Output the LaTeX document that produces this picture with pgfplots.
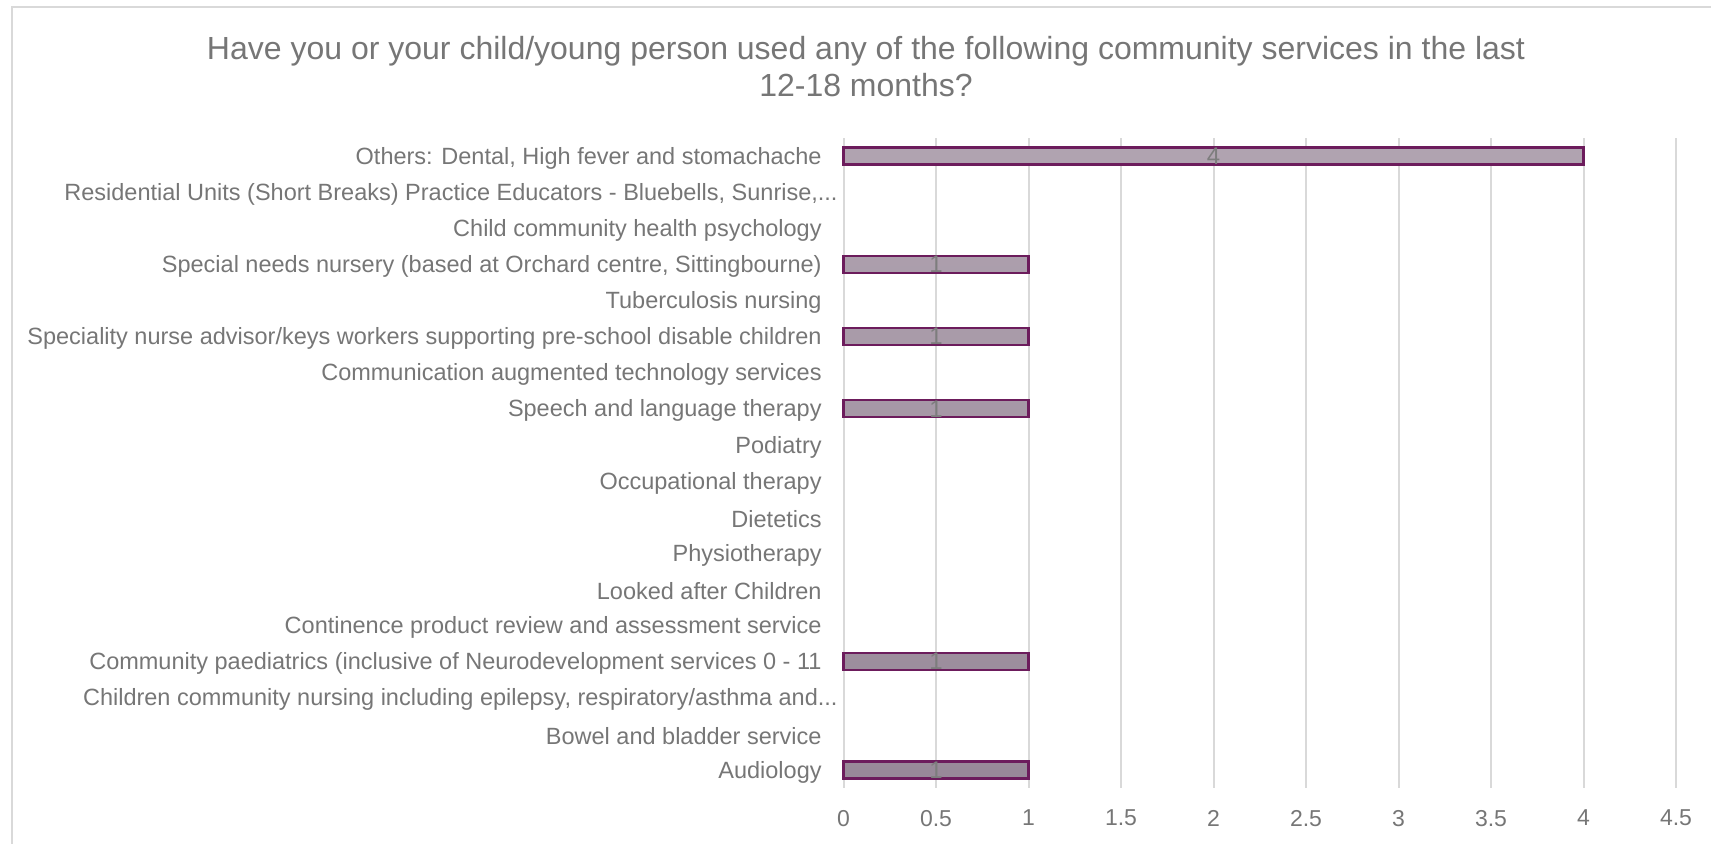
\documentclass[border=0pt]{standalone}
\usepackage{pgfplots}
\pgfplotsset{compat=1.18}
\usepackage{pgfplotstable}
\usepackage{fontspec}
\setmainfont{Liberation Sans}
\def\tdots{...}
\definecolor{txtgray}{RGB}{118,118,118}
\definecolor{gridgray}{RGB}{217,217,217}
\definecolor{baredge}{RGB}{108,28,92}
\definecolor{bartop}{RGB}{176,163,176}
\definecolor{barbot}{RGB}{152,137,153}
\definecolor{lblgray}{RGB}{125,125,125}
\pgfplotstableread{
idx v
0 1
1 0
2 0
3 1
4 0
5 0
6 0
7 0
8 0
9 0
10 1
11 0
12 1
13 0
14 1
15 0
16 0
17 4
}\datatab
\begin{document}
\begin{tikzpicture}[x=1pt,y=1pt]
\path[use as bounding box] (0,0) rectangle (855.5,422);
\draw[gridgray, line width=1pt] (6,-10) -- (6,418.5) -- (900,418.5);
\node[font=\fontsize{16}{18.5}\selectfont, text=txtgray, align=center] at (433,388.5)
 {Have you or your child/young person used any of the following community services in the last\\12-18 months?};
\begin{axis}[
  at={(421.75pt,28pt)}, anchor=south west,
  scale only axis, width=416.25pt, height=325pt,
  xmin=0, xmax=4.5, ymin=-0.5, ymax=17.5,
  axis line style={draw=none},
  major tick length=0pt,
  xtick={0,0.5,1,1.5,2,2.5,3,3.5,4,4.5},
  ytick={0,1,2,3,4,5,6,7,8,9,10,11,12,13,14,15,16,17},
  xmajorgrids, major grid style={gridgray, line width=1pt},
  /pgf/number format/assume math mode=true,
  /pgf/number format/fixed,
  /pgf/number format/precision=1,
  tick label style={text=txtgray},
  xticklabel style={font=\fontsize{11.5}{13}\selectfont, yshift=-7.5pt},
  yticklabel style={font=\fontsize{11.75}{13}\selectfont, anchor=east, inner sep=0pt, xshift=-10.75pt, yshift=-1pt},
  yticklabels={
    Audiology,
    Bowel and bladder service,
    {Children community nursing including epilepsy, respiratory/asthma and\tdots\kern-8pt},
    Community paediatrics (inclusive of Neurodevelopment services 0 - 11,
    Continence product review and assessment service,
    Looked after Children,
    Physiotherapy,
    Dietetics,
    Occupational therapy,
    Podiatry,
    Speech and language therapy,
    Communication augmented technology services,
    Speciality nurse advisor/keys workers supporting pre-school disable children,
    Tuberculosis nursing,
    {Special needs nursery (based at Orchard centre, Sittingbourne)},
    Child community health psychology,
    {Residential Units (Short Breaks) Practice Educators - Bluebells, Sunrise,\tdots\kern-8pt},
    {Others: Dental, High fever and stomachache}
  },
  clip=false,
]
\addplot[xbar, bar width=8.5pt, draw=baredge, line width=1.1pt,
  top color=bartop, bottom color=barbot,
  restrict x to domain=0.001:100]
  table[x=v, y=idx] {\datatab};
\addplot[draw=none, mark=none, restrict x to domain=0.001:100,
  nodes near coords, point meta=explicit,
  nodes near coords style={anchor=center, text=lblgray, font=\fontsize{12}{13}\selectfont,
    /pgf/number format/assume math mode=true}]
  table[x expr=\thisrow{v}/2, y=idx, meta=v] {\datatab};
\end{axis}
\end{tikzpicture}
\end{document}
